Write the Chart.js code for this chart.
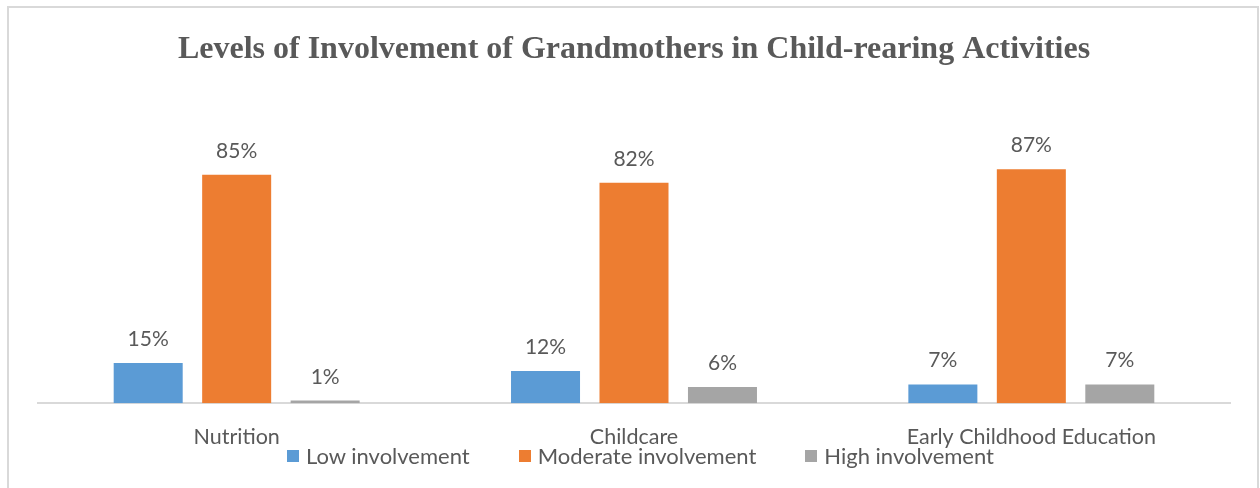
<!DOCTYPE html>
<html>
<head>
<meta charset="utf-8">
<script src="https://cdn.jsdelivr.net/npm/chart.js@4/dist/chart.umd.min.js"></script>
<style>
  html, body { margin: 0; padding: 0; background: #fff; }
  body { width: 1260px; height: 488px; position: relative; overflow: hidden; }
  #frame {
    position: absolute; left: 7px; top: 6px; width: 1252px; height: 500px;
    border: 2px solid #d9d9d9; box-sizing: border-box;
  }
  #chart { position: absolute; left: 0; top: 0; }
  #legend {
    position: absolute; left: 287px; top: 442px; display: flex; gap: 49px;
    font-family: Lato, "Liberation Sans", sans-serif; font-size: 22px; color: #595959;
  }
  #legend .item { display: flex; align-items: center; }
  #legend .box { width: 12px; height: 12px; margin-right: 7px; }
</style>
</head>
<body>
<div id="frame"></div>
<canvas id="chart" width="1260" height="488"></canvas>
<div id="legend"></div>
<script>
const categories = ['Nutrition', 'Childcare', 'Early Childhood Education'];
const seriesNames = ['Low involvement', 'Moderate involvement', 'High involvement'];
const lowValues = [15, 12, 7];
const moderateValues = [85, 82, 87];
const highValues = [1, 6, 7];
const seriesColors = ['#5b9bd5', '#ed7d31', '#a5a5a5'];

const textGray = '#595959';
const labelFont = 'Lato, "Liberation Sans", sans-serif';

// percent labels above each bar
const valueLabels = {
  id: 'valueLabels',
  afterDatasetsDraw(chart) {
    const ctx = chart.ctx;
    ctx.save();
    ctx.font = '21px ' + labelFont;
    ctx.fillStyle = textGray;
    ctx.textAlign = 'center';
    ctx.textBaseline = 'alphabetic';
    chart.data.datasets.forEach((ds, i) => {
      chart.getDatasetMeta(i).data.forEach((bar, j) => {
        ctx.fillText(ds.data[j] + '%', bar.x, bar.y - 17);
      });
    });
    ctx.restore();
  }
};

const allSeries = [lowValues, moderateValues, highValues];

const myChart = new Chart(document.getElementById('chart'), {
  type: 'bar',
  data: {
    labels: categories,
    datasets: allSeries.map((vals, i) => ({
      label: seriesNames[i],
      data: vals,
      backgroundColor: seriesColors[i],
      categoryPercentage: 0.668,
      barPercentage: 0.78
    }))
  },
  options: {
    responsive: false,
    animation: false,
    layout: { padding: { left: 38, right: 30, top: 0, bottom: 17 } },
    plugins: {
      legend: { display: false },
      tooltip: { enabled: false },
      title: {
        display: true,
        text: 'Levels of Involvement of Grandmothers in Child-rearing Activities',
        color: textGray,
        font: { family: '"Liberation Serif", serif', size: 32, weight: 'bold' },
        padding: { top: 31, bottom: 65 }
      }
    },
    scales: {
      x: {
        grid: { display: false, drawTicks: false },
        border: { display: true, color: '#d9d9d9', width: 2 },
        ticks: { color: textGray, font: { family: labelFont, size: 21.5 }, padding: 21 }
      },
      y: {
        display: false,
        min: 0,
        max: 100
      }
    }
  },
  plugins: [valueLabels]
});

// html legend built from the chart's datasets
const legendEl = document.getElementById('legend');
myChart.data.datasets.forEach(ds => {
  const item = document.createElement('div');
  item.className = 'item';
  const box = document.createElement('span');
  box.className = 'box';
  box.style.background = ds.backgroundColor;
  const txt = document.createElement('span');
  txt.textContent = ds.label;
  item.appendChild(box);
  item.appendChild(txt);
  legendEl.appendChild(item);
});
</script>
</body>
</html>
